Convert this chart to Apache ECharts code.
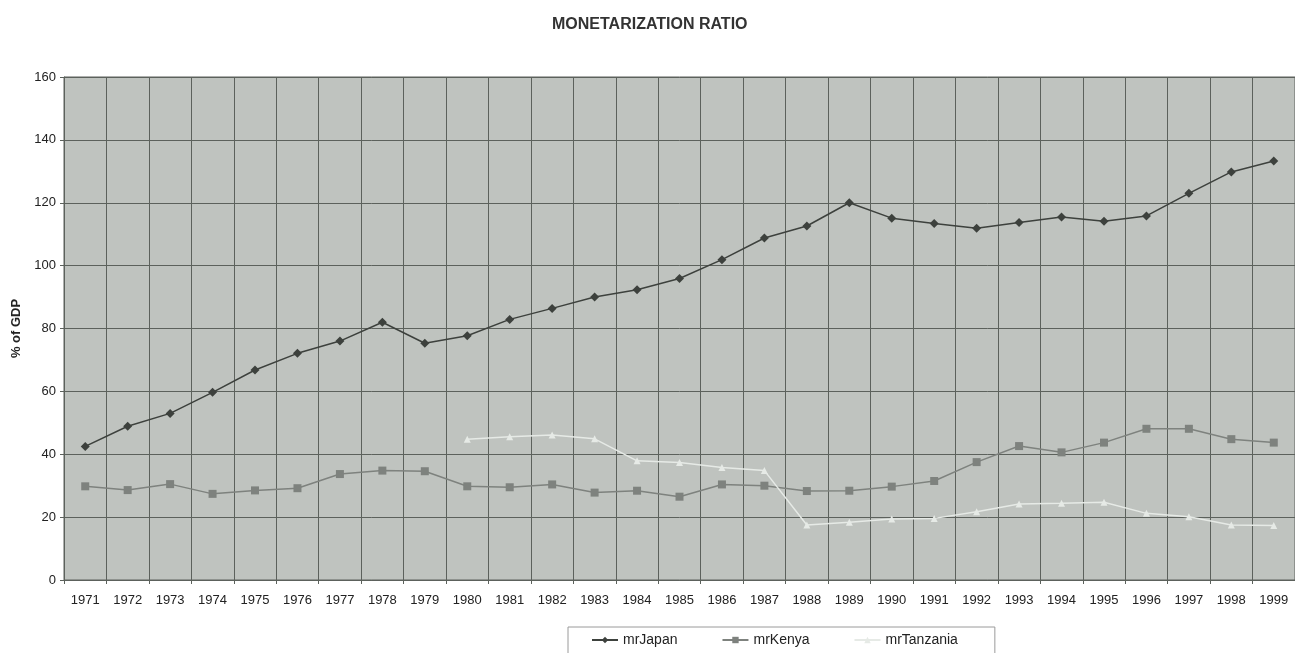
<!DOCTYPE html>
<html>
<head>
<meta charset="utf-8">
<script src="https://cdn.jsdelivr.net/npm/echarts@6/dist/echarts.min.js"></script>
<style>
  html, body { margin: 0; padding: 0; background: #fff; }
  #chart { width: 1295px; height: 653px; }
</style>
</head>
<body>
<div id="chart"></div>
<script>
// years on the category axis
const years = ['1971','1972','1973','1974','1975','1976','1977','1978','1979','1980',
  '1981','1982','1983','1984','1985','1986','1987','1988','1989','1990',
  '1991','1992','1993','1994','1995','1996','1997','1998','1999']

// monetization ratio, % of GDP
const mrJapan = [42.5, 48.9, 53.0, 59.7, 66.8, 72.1, 76.0, 82.0, 75.3, 77.7,
  82.9, 86.4, 90.0, 92.3, 95.9, 101.9, 108.8, 112.6, 120.0, 115.1,
  113.4, 111.9, 113.7, 115.5, 114.1, 115.8, 123.0, 129.8, 133.3]
const mrKenya = [29.8, 28.6, 30.5, 27.4, 28.5, 29.2, 33.7, 34.8, 34.6, 29.8,
  29.5, 30.4, 27.8, 28.4, 26.5, 30.4, 30.0, 28.3, 28.4, 29.7,
  31.5, 37.5, 42.6, 40.6, 43.7, 48.1, 48.1, 44.8, 43.7]
const mrTanzania = [null, null, null, null, null, null, null, null, null, 44.8,
  45.6, 46.1, 44.9, 37.9, 37.4, 35.8, 34.8, 17.5, 18.4, 19.4,
  19.6, 21.7, 24.2, 24.4, 24.7, 21.2, 20.1, 17.5, 17.3]

const yTicks = [0, 20, 40, 60, 80, 100, 120, 140, 160]

const chart = echarts.init(document.getElementById('chart'))

const font = 'Liberation Sans, Arial, sans-serif'
const gridColor = '#5c615c'

chart.setOption({
  animation: false,
  backgroundColor: '#ffffff',
  title: {
    text: 'MONETARIZATION RATIO',
    left: 547,
    top: 12,
    textStyle: { fontFamily: font, fontSize: 16, fontWeight: 'bold', color: '#333' }
  },
  legend: {
    bottom: -6,
    left: 568,
    itemGap: 44,
    itemWidth: 26,
    itemHeight: 8,
    padding: [6, 37, 12, 23],
    borderColor: '#9a9a9a',
    borderWidth: 1,
    backgroundColor: '#fff',
    textStyle: { fontFamily: font, fontSize: 14, color: '#222' },
    data: ['mrJapan', 'mrKenya', 'mrTanzania']
  },
  grid: {
    left: 64,
    top: 77,
    width: 1236,
    height: 503,
    show: true,
    backgroundColor: '#bfc3bf',
    borderColor: gridColor,
    borderWidth: 1
  },
  xAxis: {
    type: 'category',
    data: years,
    boundaryGap: true,
    axisLine: { lineStyle: { color: gridColor } },
    axisTick: { show: true, interval: 0, length: 4, lineStyle: { color: gridColor } },
    axisLabel: { fontFamily: font, fontSize: 13, color: '#222', margin: 14, interval: 0 },
    splitLine: { show: true, interval: 0, lineStyle: { color: gridColor, width: 1 } }
  },
  yAxis: {
    type: 'value',
    min: yTicks[0],
    max: yTicks[yTicks.length - 1],
    interval: yTicks[1] - yTicks[0],
    name: '% of GDP',
    nameLocation: 'middle',
    nameGap: 40,
    nameTextStyle: { fontFamily: font, fontSize: 13, fontWeight: 'bold', color: '#222' },
    axisLine: { show: true, lineStyle: { color: gridColor } },
    axisTick: { show: true, length: 4, lineStyle: { color: gridColor } },
    axisLabel: { fontFamily: font, fontSize: 13, color: '#222', margin: 8 },
    splitLine: { show: true, lineStyle: { color: gridColor, width: 1 } }
  },
  series: [
    {
      name: 'mrJapan',
      type: 'line',
      data: mrJapan,
      symbol: 'diamond',
      symbolSize: 9,
      lineStyle: { color: '#3d413d', width: 1.5 },
      itemStyle: { color: '#3d413d' }
    },
    {
      name: 'mrKenya',
      type: 'line',
      data: mrKenya,
      symbol: 'rect',
      symbolSize: 8,
      lineStyle: { color: '#7e827e', width: 1.5 },
      itemStyle: { color: '#7e827e' }
    },
    {
      name: 'mrTanzania',
      type: 'line',
      data: mrTanzania,
      symbol: 'triangle',
      symbolSize: 7,
      lineStyle: { color: '#e6eae6', width: 1.5 },
      itemStyle: { color: '#e6eae6' }
    }
  ]
})
</script>
</body>
</html>
